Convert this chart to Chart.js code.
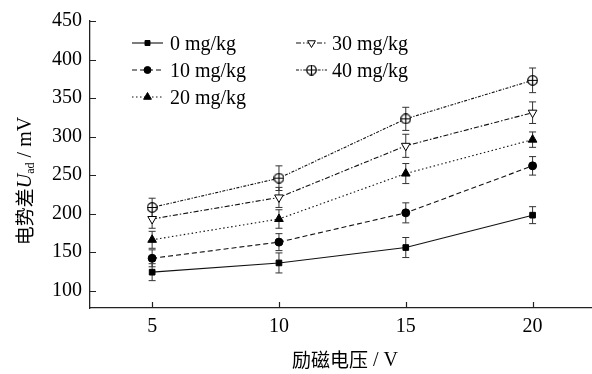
<!DOCTYPE html>
<html>
<head>
<meta charset="utf-8">
<script src="https://cdn.jsdelivr.net/npm/chart.js@4"></script>
<style>
html,body{margin:0;padding:0;background:#fff;overflow:hidden;width:592px;height:374px;}
#wrap{position:absolute;left:0;top:0;width:602px;height:374px;}
</style>
</head>
<body>
<div id="wrap"><canvas id="c" width="602" height="374"></canvas></div>
<script>
const voltages = [5, 10, 15, 20];
const seriesNames = ['0 mg/kg', '10 mg/kg', '20 mg/kg', '30 mg/kg', '40 mg/kg'];
const s0  = [124, 136, 156, 198];
const s10 = [142, 163, 201, 262];
const s20 = [166, 193, 252, 296];
const s30 = [193, 221, 288, 331];
const s40 = [208, 246, 323, 373];
const e0  = [11, 13, 13, 11];
const e10 = [11, 11, 13, 12];
const e20 = [11, 12, 13, 10];
const e30 = [12, 13, 15, 14];
const e40 = [12, 16, 15, 16];
const yTicks = [100, 150, 200, 250, 300, 350, 400, 450];
const xTicks = [5, 10, 15, 20];

const SERIF = '"Liberation Serif", "Times New Roman", serif';
const CJK = '"Noto Sans CJK SC", sans-serif';

function circlePlus(size){
  const c = document.createElement('canvas');
  c.width = size; c.height = size;
  const g = c.getContext('2d');
  const r = size/2 - 0.7;
  g.fillStyle = '#fff';
  g.strokeStyle = '#000';
  g.lineWidth = 1.2;
  g.beginPath(); g.arc(size/2, size/2, r, 0, Math.PI*2); g.fill(); g.stroke();
  g.beginPath();
  g.moveTo(size/2, 1); g.lineTo(size/2, size-1);
  g.moveTo(1, size/2); g.lineTo(size-1, size/2);
  g.stroke();
  return c;
}
const cp = circlePlus(11);

const pts = (arr) => arr.map((v,i)=>({x: voltages[i], y: v}));

const styles = [
  {dash: [], point: 'rect', radius: 4, bg: '#000', rot: 0},
  {dash: [5, 3], point: 'circle', radius: 4, bg: '#000', rot: 0},
  {dash: [1.5, 2.5], point: 'triangle', radius: 5, bg: '#000', rot: 0},
  {dash: [5, 2, 1.5, 2], point: 'triangle', radius: 5, bg: '#fff', rot: 180},
  {dash: [3, 1.5, 1.2, 1.5], point: cp, radius: 5, bg: '#fff', rot: 0},
];
const values = [s0, s10, s20, s30, s40];
const errors = [e0, e10, e20, e30, e40];

const datasets = values.map((v, k) => ({
  label: seriesNames[k],
  data: pts(v),
  errors: errors[k],
  borderColor: '#111',
  borderWidth: 1.1,
  borderDash: styles[k].dash,
  pointStyle: styles[k].point,
  pointRadius: styles[k].radius,
  pointRotation: styles[k].rot,
  pointBackgroundColor: styles[k].bg,
  pointBorderColor: '#000',
  pointBorderWidth: 1,
  fill: false,
  tension: 0
}));

const errorBars = {
  id: 'errorBars',
  beforeDatasetsDraw(chart){
    const ctx = chart.ctx;
    const xs = chart.scales.x, ys = chart.scales.y;
    ctx.save();
    ctx.strokeStyle = '#333';
    ctx.lineWidth = 1;
    chart.data.datasets.forEach(ds => {
      ds.data.forEach((p, i) => {
        const x = xs.getPixelForValue(p.x);
        const yt = ys.getPixelForValue(p.y + ds.errors[i]);
        const yb = ys.getPixelForValue(p.y - ds.errors[i]);
        ctx.beginPath();
        ctx.moveTo(x, yt); ctx.lineTo(x, yb);
        ctx.moveTo(x-3.5, yt); ctx.lineTo(x+3.5, yt);
        ctx.moveTo(x-3.5, yb); ctx.lineTo(x+3.5, yb);
        ctx.stroke();
      });
    });
    ctx.restore();
  }
};

const decor = {
  id: 'decor',
  afterDraw(chart){
    const ctx = chart.ctx;
    const xs = chart.scales.x, ys = chart.scales.y;
    const a = chart.chartArea;
    ctx.save();
    ctx.strokeStyle = '#222';
    ctx.lineWidth = 1.2;
    ctx.beginPath();
    yTicks.forEach(v => {
      const y = Math.round(ys.getPixelForValue(v)) + 0.5;
      ctx.moveTo(a.left, y); ctx.lineTo(a.left + 6, y);
    });
    xTicks.forEach(v => {
      const x = Math.round(xs.getPixelForValue(v)) + 0.5;
      ctx.moveTo(x, a.bottom); ctx.lineTo(x, a.bottom - 6);
    });
    ctx.stroke();

    const items = [
      {k:0, x0:132, x1:163, tx:170, y:43},
      {k:1, x0:132, x1:163, tx:170, y:70},
      {k:2, x0:132, x1:163, tx:170, y:97},
      {k:3, x0:296, x1:327, tx:332, y:43},
      {k:4, x0:296, x1:327, tx:332, y:70},
    ];
    items.forEach(it => {
      const ds = chart.data.datasets[it.k];
      ctx.save();
      ctx.strokeStyle = '#111';
      ctx.lineWidth = 1.1;
      ctx.setLineDash(ds.borderDash);
      ctx.beginPath(); ctx.moveTo(it.x0, it.y); ctx.lineTo(it.x1, it.y); ctx.stroke();
      ctx.restore();
      ctx.save();
      ctx.fillStyle = ds.pointBackgroundColor;
      ctx.strokeStyle = '#000';
      ctx.lineWidth = 1;
      Chart.helpers.drawPoint(ctx, {pointStyle: ds.pointStyle, rotation: ds.pointRotation, radius: ds.pointRadius - 0.5, borderWidth: 1}, (it.x0+it.x1)/2, it.y);
      ctx.restore();
      ctx.fillStyle = '#000';
      ctx.font = '20px ' + SERIF;
      ctx.textBaseline = 'middle';
      ctx.textAlign = 'left';
      ctx.fillText(ds.label, it.tx, it.y + 1.5);
    });

    ctx.fillStyle = '#000';
    ctx.textBaseline = 'middle';
    const p1 = '励磁电压';
    const p2 = ' / V';
    ctx.font = '19px ' + CJK;
    const w1 = ctx.measureText(p1).width;
    ctx.font = '20px ' + SERIF;
    const w2 = ctx.measureText(p2).width;
    let sx = 345 - (w1 + w2) / 2;
    ctx.textAlign = 'left';
    ctx.font = '19px ' + CJK;
    ctx.fillText(p1, sx, 360);
    ctx.font = '20px ' + SERIF;
    ctx.fillText(p2, sx + w1, 361);

    ctx.save();
    ctx.translate(25, 181);
    ctx.rotate(-Math.PI / 2);
    const parts = [
      {t:'电势差', f:'19px ' + CJK, dy:0},
      {t:'U', f:'italic 20px ' + SERIF, dy:1},
      {t:'ad', f:'12px ' + SERIF, dy:6},
      {t:' / mV', f:'20px ' + SERIF, dy:1},
    ];
    let tw = 0;
    parts.forEach(p => { ctx.font = p.f; p.w = ctx.measureText(p.t).width; tw += p.w; });
    let cx = -tw / 2;
    ctx.textAlign = 'left';
    ctx.textBaseline = 'middle';
    parts.forEach(p => { ctx.font = p.f; ctx.fillText(p.t, cx, p.dy); cx += p.w; });
    ctx.restore();

    ctx.restore();
  }
};

new Chart(document.getElementById('c'), {
  type: 'line',
  data: { datasets },
  options: {
    responsive: false,
    animation: false,
    devicePixelRatio: 1,
    layout: { padding: { top: 21, right: 0, left: 0, bottom: 0 } },
    plugins: { legend: { display: false }, tooltip: { enabled: false } },
    scales: {
      x: {
        type: 'linear',
        min: 2.55, max: 22.5,
        afterBuildTicks: s => { s.ticks = xTicks.map(v => ({value: v})); },
        afterFit: s => { s.height = 66; },
        grid: { display: true, drawOnChartArea: false, drawTicks: false },
        border: { display: true, color: '#222', width: 1.3 },
        ticks: { color: '#000', font: { family: SERIF, size: 20 }, padding: 7, maxRotation: 0, autoSkip: false }
      },
      y: {
        min: 77.5, max: 450,
        afterBuildTicks: s => { s.ticks = yTicks.map(v => ({value: v})); },
        afterFit: s => { s.width = 90; },
        grid: { display: true, drawOnChartArea: false, drawTicks: false },
        border: { display: true, color: '#222', width: 1.3 },
        ticks: { color: '#000', font: { family: SERIF, size: 20 }, padding: 8, autoSkip: false }
      }
    }
  },
  plugins: [errorBars, decor]
});
</script>
</body>
</html>
